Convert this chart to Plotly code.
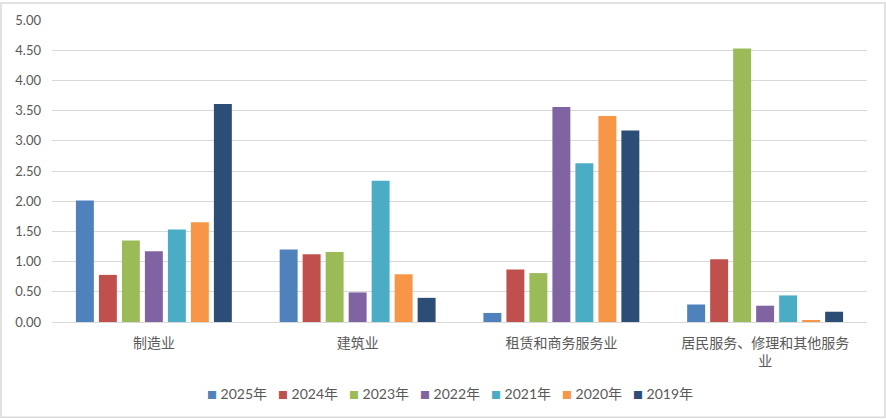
import plotly.graph_objects as go

# 行业分类
industries = ['制造业', '建筑业', '租赁和商务服务业', '居民服务、修理和其他服务<br>业']

# 各年份数值
years = ['2025年', '2024年', '2023年', '2022年', '2021年', '2020年', '2019年']
v2025 = [2.01, 1.20, 0.15, 0.29]
v2024 = [0.78, 1.12, 0.87, 1.04]
v2023 = [1.35, 1.16, 0.81, 4.53]
v2022 = [1.17, 0.49, 3.56, 0.27]
v2021 = [1.53, 2.34, 2.63, 0.44]
v2020 = [1.65, 0.79, 3.41, 0.03]
v2019 = [3.61, 0.40, 3.17, 0.17]
series = [v2025, v2024, v2023, v2022, v2021, v2020, v2019]

colors = ['#4F81BD', '#C0504D', '#9BBB59', '#8064A2', '#4BACC6', '#F79646', '#2C4D75']

W, H = 886, 419
ml, mr, mt, mb = 52, 19, 18, 97
pw, ph = W - ml - mr, H - mt - mb

fig = go.Figure()
for name, vals, c in zip(years, series, colors):
    fig.add_trace(go.Bar(x=industries, y=vals, name=name, showlegend=False,
                         marker=dict(color=c, line=dict(width=0))))

fig.update_layout(
    width=W, height=H,
    margin=dict(l=ml, r=mr, t=mt, b=mb),
    paper_bgcolor='white', plot_bgcolor='white',
    font=dict(family="Lato, 'Noto Sans CJK SC'", size=13, color='#595959'),
    barmode='group', bargap=0.21, bargroupgap=0.22,
    xaxis=dict(showgrid=False, showline=True, linecolor='#D9D9D9', linewidth=1,
               ticks='', ticklabelstandoff=8, tickfont=dict(size=14, color='#595959')),
    yaxis=dict(range=[0, 5], dtick=0.5, tickformat='.2f', showgrid=True, gridcolor='#D9D9D9',
               zeroline=False, showline=False, ticks='', ticklabelstandoff=10,
               tickfont=dict(size=13, color='#595959')),
)

# 图例（手工排版，贴近 Excel 样式）
for i, (name, c) in enumerate(zip(years, colors)):
    xpx = 205 + 71 * i
    fig.add_annotation(
        xref='paper', yref='paper', x=(xpx - ml) / pw, y=-(394 - (H - mb)) / ph,
        xanchor='left', yanchor='middle', showarrow=False,
        text=f"<span style='color:{c};font-size:10px'>■</span> {name}",
        font=dict(size=14, color='#595959'))

# 外框
fig.add_shape(type='rect', xref='paper', yref='paper',
              x0=-(ml - 1) / pw, x1=1 + (mr - 1) / pw, y0=-(mb - 1) / ph, y1=1 + (mt - 1) / ph,
              line=dict(color='#D9D9D9', width=1.5), fillcolor='rgba(0,0,0,0)', layer='below')

# 去掉页面默认边距
fig.write_html("out.html", config={'displayModeBar': False},
               post_script="document.body.style.margin='0';document.body.style.overflow='hidden';")
